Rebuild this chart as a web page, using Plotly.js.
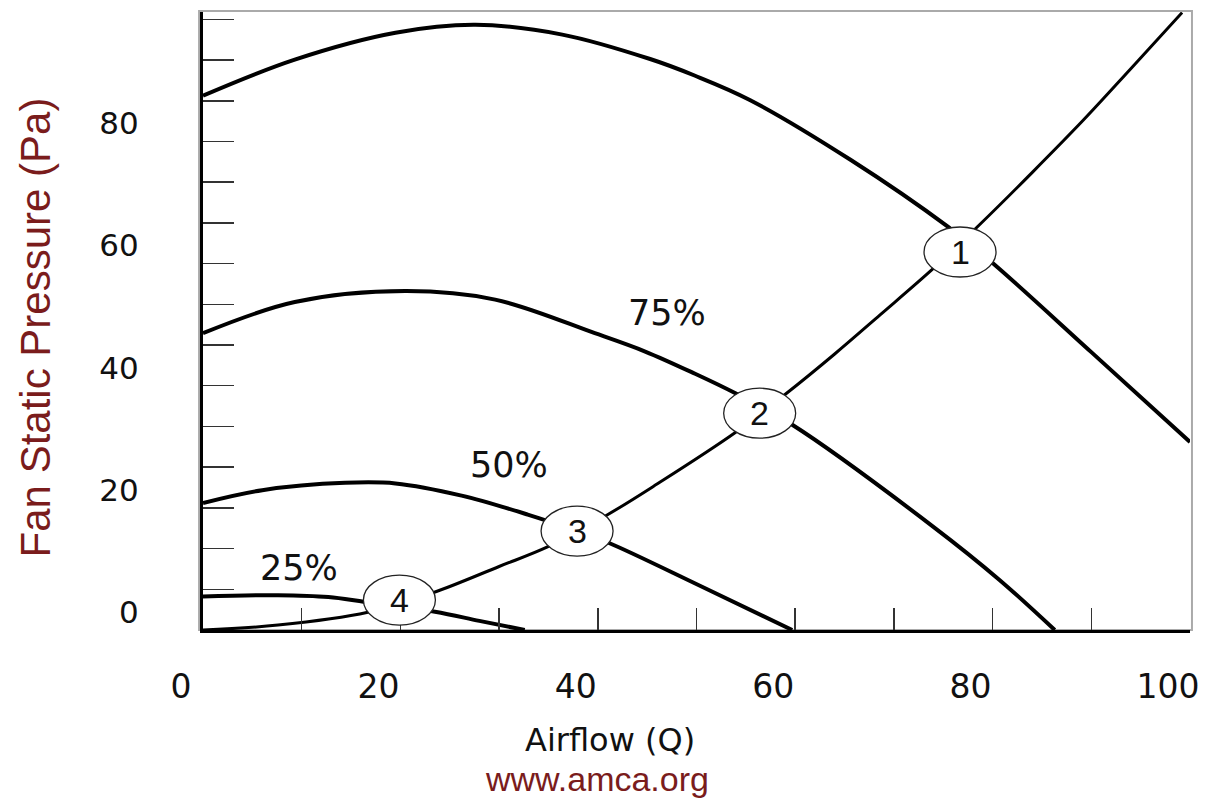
<!DOCTYPE html>
<html>
<head>
<meta charset="utf-8">
<script src="https://cdn.plot.ly/plotly-3.0.1.min.js"></script>
<style>
  html, body { margin: 0; padding: 0; background: #fff; }
  #chart { width: 1206px; height: 801px; }
</style>
</head>
<body>
<div id="chart"></div>
<script>
// ---- Data ----
// Axis ticks
const xTickVals = [0, 10, 20, 30, 40, 50, 60, 70, 80, 90, 100];
const xTickText = ["0", "", "20", "", "40", "", "60", "", "80", "", "100"];
const yTickVals = [0, 6.667, 13.333, 20, 26.667, 33.333, 40, 46.667, 53.333, 60, 66.667, 73.333, 80, 86.667, 93.333, 100];
const yTickText = ["0", "", "", "20", "", "", "40", "", "", "60", "", "", "80", "", "", ""];

// System resistance curve
const systemX = [0, 7.6, 16.7, 23.3, 30, 34.9, 40.9, 46, 53.9, 59.0, 64, 68.6, 74.0, 78.7, 84, 89.2, 94, 99.2];
const systemY = [0, 0.8, 2.9, 6.1, 10.4, 13.6, 18.8, 23.9, 32.3, 38.6, 45.2, 51.6, 59.2, 66.4, 74.9, 83.5, 91.9, 101.1];

// Fan curves at 100%, 75%, 50%, 25% speed
const fan100X = [0, 9.3, 19.5, 27.6, 36.4, 45.3, 49.8, 55.4, 65.6, 75.5, 80.0, 90, 100];
const fan100Y = [87.5, 93.4, 97.8, 99.1, 97.5, 93.5, 90.8, 86.8, 77.0, 66.0, 60.1, 45.5, 30.8];

const fan75X = [0, 9.3, 20.5, 29.6, 39.7, 44.8, 49.8, 53.9, 59.7, 74.0, 80.7, 86.3];
const fan75Y = [48.6, 53.7, 55.5, 54.1, 48.6, 45.6, 42.0, 38.8, 33.6, 16.9, 8.2, 0];

const fan50X = [0, 6.0, 14.4, 19.5, 26.2, 32.9, 37.9, 41.2, 50.4, 59.7];
const fan50Y = [20.8, 22.9, 24.1, 24.0, 22.0, 18.9, 16.2, 14.2, 7.2, 0];

const fan25X = [0, 7.6, 12.7, 16.4, 23.5, 28, 32.6];
const fan25Y = [5.5, 5.7, 5.4, 4.6, 3.0, 1.5, 0];

// Curve labels
const curveLabelText = ["75%", "50%", "25%"];
const curveLabelX = [47.0, 31.0, 9.7];
const curveLabelY = [51.9, 27.0, 10.2];

// Operating points (numbered circles)
const pointLabel = ["1", "2", "3", "4"];
const pointX = [76.7, 56.4, 37.9, 19.9];
const pointY = [61.9, 35.5, 16.2, 4.9];

// Titles
const xTitle = "Airflow (Q)";
const yTitle = "Fan Static Pressure (Pa)";
const sourceText = "www.amca.org";

// ---- Chart ----
const RED = "#7a1c1c";
const fanLine = {color: "#000", width: 4, shape: "spline", smoothing: 1};

const traces = [
  {x: fan100X, y: fan100Y, name: "100%", mode: "lines", line: fanLine, hoverinfo: "skip"},
  {x: fan75X, y: fan75Y, name: "75%", mode: "lines", line: fanLine, hoverinfo: "skip"},
  {x: fan50X, y: fan50Y, name: "50%", mode: "lines", line: fanLine, hoverinfo: "skip"},
  {x: fan25X, y: fan25Y, name: "25%", mode: "lines", line: fanLine, hoverinfo: "skip"},
  {x: systemX, y: systemY, name: "System", mode: "lines",
   line: {color: "#000", width: 3, shape: "spline", smoothing: 1}, hoverinfo: "skip"}
];

const shapes = [
  {type: "rect", xref: "paper", yref: "paper", x0: -0.004, x1: 1.002, y0: 0, y1: 1.0016,
   line: {color: "#aaaaaa", width: 2}, layer: "below"}
];
pointX.forEach((px, i) => {
  shapes.push({
    type: "circle", xref: "x", yref: "y",
    xsizemode: "pixel", ysizemode: "pixel",
    xanchor: px, yanchor: pointY[i],
    x0: -36, x1: 36, y0: -25, y1: 25,
    fillcolor: "#ffffff", line: {color: "#222", width: 1.3}, layer: "above"
  });
});

const annotations = [];
curveLabelText.forEach((t, i) => {
  annotations.push({
    x: curveLabelX[i], y: curveLabelY[i], xref: "x", yref: "y",
    text: t, showarrow: false, xanchor: "center", yanchor: "middle",
    font: {family: "DejaVu Sans", size: 35, color: "#111"}
  });
});
pointLabel.forEach((t, i) => {
  annotations.push({
    x: pointX[i], y: pointY[i], xref: "x", yref: "y",
    text: t, showarrow: false, xanchor: "center", yanchor: "middle",
    font: {family: "Liberation Sans", size: 34, color: "#111"}
  });
});
annotations.push({
  x: 0.412, y: -0.178, xref: "paper", yref: "paper",
  text: xTitle, showarrow: false, xanchor: "center", yanchor: "middle",
  font: {family: "DejaVu Sans", size: 32, color: "#111"}
});
annotations.push({
  x: 0.399, y: -0.2751, xref: "paper", yref: "paper",
  text: sourceText, showarrow: false, xanchor: "center", yanchor: "bottom",
  font: {family: "Liberation Sans", size: 34, color: RED}
});
annotations.push({
  x: -0.170, y: 0.490, xref: "paper", yref: "paper",
  text: yTitle, showarrow: false, textangle: -90, xanchor: "center", yanchor: "middle",
  font: {family: "Liberation Sans", size: 42, color: RED}
});

const layout = {
  width: 1206, height: 801,
  margin: {l: 203, r: 16, t: 12, b: 171},
  paper_bgcolor: "#ffffff", plot_bgcolor: "#ffffff",
  showlegend: false,
  xaxis: {
    range: [0, 100], tickmode: "array", tickvals: xTickVals, ticktext: xTickText,
    ticks: "inside", ticklen: 22, tickwidth: 1.5, tickcolor: "#333",
    showline: true, linecolor: "#000", linewidth: 3,
    showgrid: false, zeroline: false, fixedrange: true,
    tickfont: {family: "DejaVu Sans", size: 33, color: "#111"},
    ticklabelshift: -22, ticklabelstandoff: 25
  },
  yaxis: {
    range: [0, 101.2], tickmode: "array", tickvals: yTickVals, ticktext: yTickText,
    ticks: "inside", ticklen: 31, tickwidth: 1.5, tickcolor: "#333",
    showline: true, linecolor: "#000", linewidth: 3,
    showgrid: false, zeroline: false, fixedrange: true,
    tickfont: {family: "DejaVu Sans", size: 31, color: "#111"},
    ticklabelshift: -18, ticklabelstandoff: 55
  },
  shapes: shapes,
  annotations: annotations
};

Plotly.newPlot("chart", traces, layout, {displayModeBar: false, staticPlot: true});
</script>
</body>
</html>
